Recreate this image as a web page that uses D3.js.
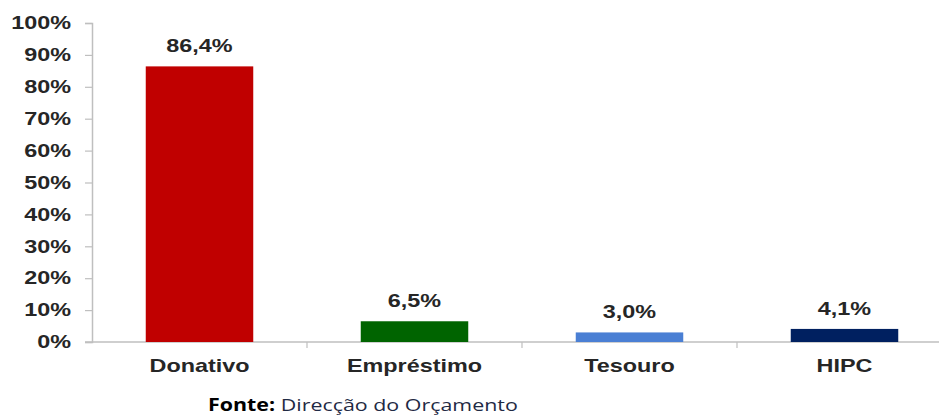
<!DOCTYPE html>
<html>
<head>
<meta charset="utf-8">
<script src="https://cdn.jsdelivr.net/npm/d3@7"></script>
<style>
  body { margin: 0; background: #fff; }
  svg { display: block; }
</style>
</head>
<body>
<div id="chart"></div>
<script>
// data
const categories = ["Donativo", "Empréstimo", "Tesouro", "HIPC"];
const values = [86.4, 6.5, 3.0, 4.1];
const labels = ["86,4%", "6,5%", "3,0%", "4,1%"];
const barColors = ["#c00000", "#006400", "#4a7fd4", "#002060"];
const yTicks = [0, 10, 20, 30, 40, 50, 60, 70, 80, 90, 100];

const W = 939, H = 416;
const stretch = 1.3;   // the source text is drawn wide
const svg = d3.select('#chart').append('svg')
    .attr('width', W)
    .attr('height', H);

const x = d3.scaleBand()
    .domain(categories)
    .range([92, 952])
    .paddingInner(0.5)
    .paddingOuter(0.25);

const y = d3.scaleLinear()
    .domain([0, 100])
    .range([342, 23]);

const boldFont = 'Liberation Sans, Arial, sans-serif';

// y axis
const yAxis = svg.append('g')
    .attr('transform', 'translate(92,0)')
    .call(d3.axisLeft(y).tickValues(yTicks).tickSize(7).tickFormat(d => d + '%'));
yAxis.select('.domain').attr('stroke', '#bfbfbf').attr('stroke-width', 1.5);
yAxis.selectAll('.tick line').attr('stroke', '#bfbfbf').attr('stroke-width', 1.2);
yAxis.selectAll('.tick text')
    .attr('x', -21 / stretch)
    .attr('transform', `scale(${stretch},1)`)
    .style('font-family', boldFont)
    .style('font-weight', 'bold')
    .style('font-size', '18px')
    .attr('fill', '#262626');

// x axis line with category separators
const xAxisG = svg.append('g');
xAxisG.append('line')
    .attr('x1', 85).attr('x2', W)
    .attr('y1', y(0)).attr('y2', y(0))
    .attr('stroke', '#bfbfbf').attr('stroke-width', 1.5);
const step = x.step();
xAxisG.selectAll('.sep')
    .data(categories.slice(1))
    .join('line')
    .attr('class', 'sep')
    .attr('x1', d => x(d) - step * 0.25)
    .attr('x2', d => x(d) - step * 0.25)
    .attr('y1', y(0))
    .attr('y2', y(0) + 6)
    .attr('stroke', '#bfbfbf').attr('stroke-width', 1.2);

// bars
svg.selectAll('.bar')
    .data(categories)
    .join('rect')
    .attr('class', 'bar')
    .attr('x', d => x(d))
    .attr('width', x.bandwidth())
    .attr('y', (d, i) => y(values[i]))
    .attr('height', (d, i) => y(0) - y(values[i]))
    .attr('fill', (d, i) => barColors[i]);

// value labels
svg.selectAll('.val')
    .data(categories)
    .join('text')
    .attr('class', 'val')
    .attr('transform', (d, i) =>
        `translate(${x(d) + x.bandwidth() / 2},${y(values[i]) - 14}) scale(${stretch},1)`)
    .attr('text-anchor', 'middle')
    .style('font-family', boldFont)
    .style('font-weight', 'bold')
    .style('font-size', '18px')
    .attr('fill', '#262626')
    .text((d, i) => labels[i]);

// category labels
svg.selectAll('.cat')
    .data(categories)
    .join('text')
    .attr('class', 'cat')
    .attr('transform', d => `translate(${x(d) + x.bandwidth() / 2},372) scale(${stretch},1)`)
    .attr('text-anchor', 'middle')
    .style('font-family', boldFont)
    .style('font-weight', 'bold')
    .style('font-size', '18px')
    .attr('fill', '#262626')
    .text(d => d);

// source
const src = svg.append('text')
    .attr('transform', 'translate(208,411) scale(1.26,1)')
    .style('font-family', 'Open Sans, Noto Sans, sans-serif')
    .style('font-size', '17px')
    .attr('fill', '#1f2a44');
src.append('tspan').style('font-weight', 'bold').attr('fill', '#000').text('Fonte:');
src.append('tspan').text(' Direcção do Orçamento');
</script>
</body>
</html>
